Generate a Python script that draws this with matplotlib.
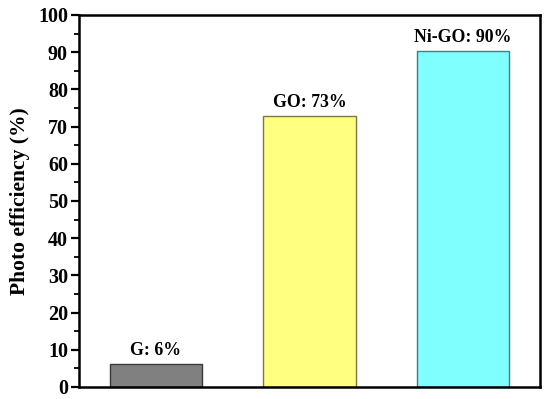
import matplotlib
matplotlib.use('Agg')
import matplotlib.pyplot as plt
from matplotlib.ticker import MultipleLocator

samples = ['G', 'GO', 'Ni-GO']
efficiency = [6.2, 72.8, 90.3]
labels = ['G: 6%', 'GO: 73%', 'Ni-GO: 90%']
colors = ['#808080', '#FFFF80', '#80FFFF']
edges = ['#3a3a3a', '#7a7a40', '#3f7f80']

plt.rcParams.update({'font.family': 'Liberation Serif', 'font.weight': 'bold'})

fig = plt.figure(figsize=(5.5, 3.99), dpi=100)
ax = fig.add_axes([79/550, 12/399, 461/550, 372/399])

xs = range(1, len(samples) + 1)
ax.bar(xs, efficiency, width=0.6, color=colors, edgecolor=edges, lw=1.0, zorder=2)
for x, v, t in zip(xs, efficiency, labels):
    ax.text(x, v + 1.4, t, ha='center', va='bottom', fontsize=12.8, fontweight='bold')

ax.set_xlim(0.5, 3.5)
ax.set_ylim(0, 100)
ax.set_xticks([])
ax.yaxis.set_major_locator(MultipleLocator(10))
ax.yaxis.set_minor_locator(MultipleLocator(5))
ax.tick_params(axis='y', which='major', direction='out', length=6, width=1.6,
               labelsize=14.5, pad=2)
ax.tick_params(axis='y', which='minor', direction='out', length=3.5, width=1.3)
for s in ax.spines.values():
    s.set_linewidth(1.8)
ax.set_ylabel('Photo efficiency (%)', fontsize=15.5, fontweight='bold', labelpad=6)

fig.savefig('out.png', dpi=100, facecolor='white')
